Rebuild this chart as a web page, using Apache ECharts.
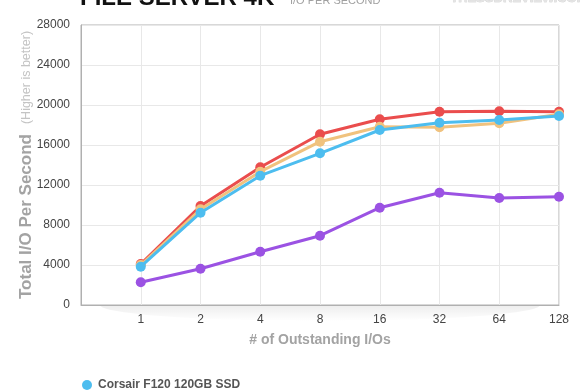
<!DOCTYPE html>
<html>
<head>
<meta charset="utf-8">
<script src="https://cdn.jsdelivr.net/npm/echarts@6/dist/echarts.min.js"></script>
<style>
html,body{margin:0;padding:0;background:#fff;}
#chart{width:580px;height:390px;}
</style>
</head>
<body>
<div id="chart"></div>
<script>
var xLabels = ['1', '2', '4', '8', '16', '32', '64', '128'];
var yTicks = [0, 4000, 8000, 12000, 16000, 20000, 24000, 28000];
var seriesNames = ['Series A', 'Series B', 'Series C', 'Corsair F120 120GB SSD'];
var purpleValues = [2270, 3630, 5330, 6930, 9730, 11230, 10700, 10830];
var redValues = [4100, 9900, 13770, 17070, 18570, 19330, 19370, 19330];
var tanValues = [4000, 9570, 13330, 16330, 17830, 17770, 18170, 19070];
var cyanValues = [3830, 9230, 12930, 15170, 17500, 18230, 18500, 18900];
var titleText = 'FILE SERVER 4K';
var subtitleText = 'I/O PER SECOND';
var logoText = 'THESSDREVIEW.COM';

function pairs(vals) {
  return vals.map(function (v, i) { return [i + 1, v]; });
}
var colors = ['#9b52e3', '#ea4d4d', '#f0c27e', '#4dbdef'];
var allVals = [purpleValues, redValues, tanValues, cyanValues];

// decorative soft shadow under the plot (half ellipse)
var shadowPts = [];
for (var i = 0; i <= 40; i++) {
  var a = Math.PI * i / 40;
  shadowPts.push([320 - 220 * Math.cos(a), 305 + 16 * Math.sin(a)]);
}

var chart = echarts.init(document.getElementById('chart'), null, {renderer: 'canvas'});
var font = 'Liberation Sans, Arial, Helvetica, sans-serif';
var series = allVals.map(function (vals, k) {
  return {
    name: seriesNames[k],
    type: 'line',
    data: pairs(vals),
    symbol: 'circle',
    symbolSize: 10,
    lineStyle: {width: 3, color: colors[k]},
    itemStyle: {color: colors[k]},
    z: 2 + k,
    animation: false
  };
});

chart.setOption({
  backgroundColor: '#fff',
  animation: false,
  textStyle: {fontFamily: font},
  grid: {left: 81, right: 21, top: 25, bottom: 85, show: true, borderColor: '#b0b0b0', borderWidth: 1, backgroundColor: 'transparent'},
  graphic: [
    {type: 'polygon', z: -10, shape: {points: shadowPts},
      style: {fill: {type: 'linear', x: 0, y: 0, x2: 0, y2: 1, colorStops: [{offset: 0, color: 'rgba(0,0,0,0.07)'}, {offset: 1, color: 'rgba(0,0,0,0)'}]}}},
    {type: 'text', left: 80, top: -14, style: {text: titleText, fontSize: 24, fontWeight: 'bold', fill: '#111', fontFamily: font}},
    {type: 'text', left: 290, top: -5, style: {text: subtitleText, fontSize: 11, fill: '#a0a0a0', fontFamily: font}},
    {type: 'text', left: 450, top: -8, style: {text: logoText, fontSize: 13, fontWeight: 'bold', fill: '#e4e4e4', stroke: '#c8c8c8', lineWidth: 0.6, fontFamily: font}}
  ],
  legend: {
    data: [seriesNames[3]],
    orient: 'vertical',
    left: 77,
    top: 374,
    icon: 'circle',
    itemWidth: 10,
    itemHeight: 10,
    textStyle: {fontSize: 12, fontWeight: 'bold', color: '#555', fontFamily: font, padding: [0, 0, 0, 1]}
  },
  xAxis: {
    type: 'value',
    min: 0,
    max: 8,
    interval: 1,
    name: '# of Outstanding I/Os',
    nameLocation: 'middle',
    nameGap: 28,
    nameMoveOverlap: false,
    nameTextStyle: {fontSize: 14, fontWeight: 'bold', color: '#a3a3a3', fontFamily: font},
    axisLine: {show: true, lineStyle: {color: '#b0b0b0', width: 1}},
    axisTick: {show: false},
    axisLabel: {
      margin: 9, fontSize: 12, color: '#444', fontFamily: font,
      formatter: function (v) { return v >= 1 ? xLabels[v - 1] : ''; }
    },
    splitLine: {show: true, lineStyle: {color: '#e8e8e8', width: 1}}
  },
  yAxis: {
    type: 'value',
    min: yTicks[0],
    max: yTicks[yTicks.length - 1],
    interval: yTicks[1] - yTicks[0],
    name: '{a|Total I/O Per Second}   {b|(Higher is better)}',
    nameLocation: 'middle',
    nameGap: 46,
    nameMoveOverlap: false,
    nameRotate: 90,
    nameTextStyle: {
      fontFamily: font,
      rich: {
        a: {fontSize: 17, fontWeight: 'bold', color: '#a3a3a3', fontFamily: font},
        b: {fontSize: 12.5, color: '#c4c4c4', fontFamily: font}
      }
    },
    axisLine: {show: true, lineStyle: {color: '#b0b0b0', width: 1}},
    axisTick: {show: false},
    axisLabel: {margin: 11, fontSize: 12, color: '#444', fontFamily: font,
      formatter: function (v) { return String(v); }},
    splitLine: {show: true, lineStyle: {color: '#e8e8e8', width: 1}}
  },
  series: series
});
</script>
</body>
</html>
